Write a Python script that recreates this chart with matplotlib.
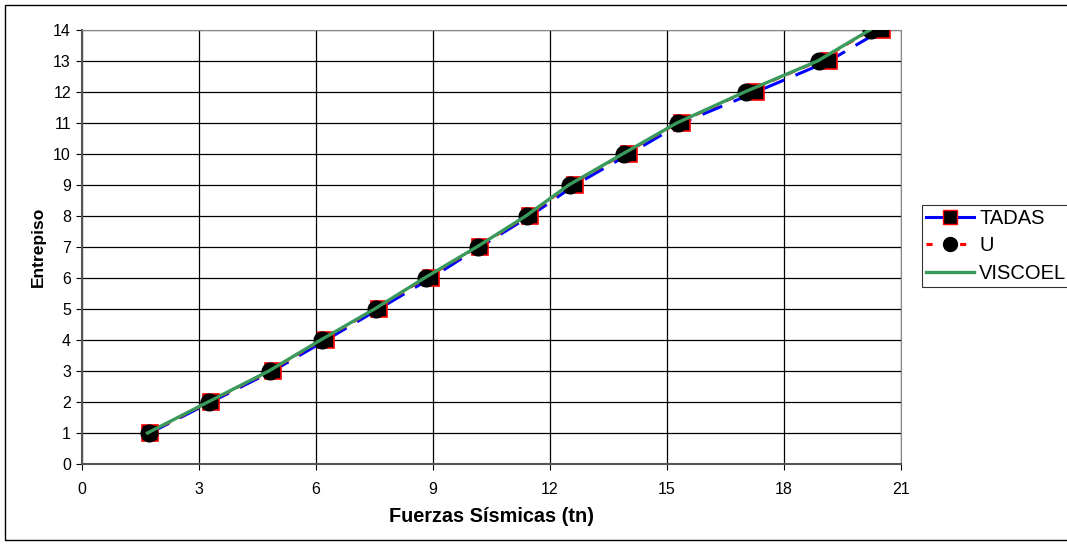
import matplotlib.pyplot as plt
from matplotlib.lines import Line2D

plt.rcParams['font.family'] = ['Liberation Sans', 'DejaVu Sans']

# storey levels and seismic forces (tn)
entrepiso = [1, 2, 3, 4, 5, 6, 7, 8, 9, 10, 11, 12, 13, 14]
tadas = [1.74, 3.31, 4.89, 6.26, 7.61, 8.95, 10.20, 11.49, 12.64, 14.03, 15.38, 17.28, 19.15, 20.51]
u_vals = [1.71, 3.26, 4.82, 6.15, 7.53, 8.81, 10.15, 11.41, 12.51, 13.89, 15.28, 17.02, 18.89, 20.23]
viscoel = [1.68, 3.23, 4.79, 6.12, 7.50, 8.78, 10.12, 11.38, 12.48, 13.86, 15.25, 16.99, 18.86, 20.20]

fig = plt.figure(figsize=(10.67, 5.44), dpi=100)
ax = fig.add_axes([82 / 1067, 1 - 464 / 544, (901 - 82) / 1067, (464 - 30) / 544])

ax.plot(tadas, entrepiso, color='blue', lw=2.2, ls=(0, (7, 4)),
        marker='s', ms=11, mfc='black', mec='red', mew=1.2, zorder=3)
ax.plot(u_vals, entrepiso, color='red', lw=2, ls=(0, (3, 3)),
        marker='o', ms=12, mfc='black', mec='black', zorder=4)
ax.plot(viscoel, entrepiso, color='#3a9a5b', lw=2.4, zorder=5)

ax.set_xlim(0, 21)
ax.set_ylim(0, 14)
ax.set_xticks(range(0, 22, 3))
ax.set_yticks(range(0, 15))
ax.grid(True, color='black', lw=0.9)
ax.set_axisbelow(True)
for side in ['top', 'right']:
    ax.spines[side].set_color('#888888')
for side in ['left', 'bottom']:
    ax.spines[side].set_color('#555555')
    ax.spines[side].set_linewidth(1.5)
ax.tick_params(labelsize=11.5, length=4, direction='out')
ax.tick_params(axis='x', pad=9)
ax.tick_params(axis='y', pad=4)

ax.set_xlabel('Fuerzas Sísmicas (tn)', fontsize=14.3, fontweight='bold', labelpad=7)
ax.set_ylabel('Entrepiso', fontsize=12.5, fontweight='bold', labelpad=5)

handles = [
    Line2D([], [], color='blue', lw=2.2, marker='s', ms=10, mfc='black', mec='red'),
    Line2D([], [], color='red', lw=2.2, ls=(0, (2, 3.5)), marker='o', ms=10, mfc='black', mec='black'),
    Line2D([], [], color='#3a9a5b', lw=2.4),
]
leg = fig.legend(handles, ['TADAS', 'U', 'VISCOEL'], loc='upper left',
                 bbox_to_anchor=(922 / 1067, 1 - 205 / 544), fontsize=14.5,
                 frameon=True, fancybox=False, edgecolor='black',
                 handlelength=2.4, borderpad=0.2, labelspacing=0.42,
                 handletextpad=0.25, borderaxespad=0)
leg.get_frame().set_linewidth(0.8)

# outer chart border
fig.patches.append(plt.Rectangle((5 / 1067, 4 / 544), 1.2, 1 - 9 / 544, transform=fig.transFigure,
                                 fill=False, edgecolor='black', lw=1))

fig.savefig('out.png', dpi=100)
